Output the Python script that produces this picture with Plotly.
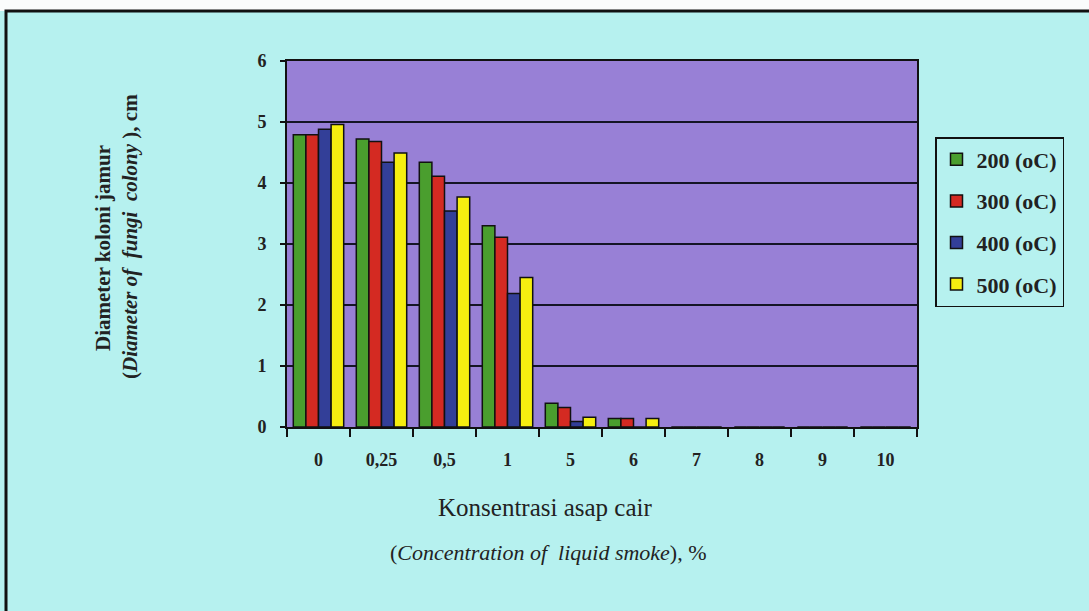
import plotly.graph_objects as go

categories = ["0", "0,25", "0,5", "1", "5", "6", "7", "8", "9", "10"]
s200 = [4.79, 4.72, 4.34, 3.30, 0.39, 0.14, 0, 0, 0, 0]
s300 = [4.79, 4.68, 4.11, 3.11, 0.32, 0.14, 0, 0, 0, 0]
s400 = [4.88, 4.34, 3.54, 2.19, 0.09, 0.0, 0, 0, 0, 0]
s500 = [4.96, 4.49, 3.77, 2.45, 0.16, 0.14, 0, 0, 0, 0]
series_names = ["200 (oC)", "300 (oC)", "400 (oC)", "500 (oC)"]
colors = ["#4a9e2e", "#d42a22", "#333f98", "#f6ee10"]

W, H = 1089, 611
L, R, T, B = 287, 172, 61, 184
pw, ph = W - L - R, H - T - B


def px_x(x):
    return (x - L) / pw


def px_y(y):
    return (H - B - y) / ph


fig = go.Figure()
for i, (name, vals) in enumerate(zip(series_names, [s200, s300, s400, s500])):
    fig.add_trace(go.Bar(
        x=categories, y=vals, name=name, legendgroup=name,
        marker=dict(color=colors[i], line=dict(color="#111111", width=1.5)),
    ))

serif = "Liberation Serif, serif"
bg = "#b6f1ef"
txt = "#222222"

fig.update_layout(
    width=W, height=H,
    margin=dict(l=L, r=R, t=T, b=B, autoexpand=False),
    paper_bgcolor=bg, plot_bgcolor="#9880d6",
    barmode="group", bargap=0.2, bargroupgap=0,
    font=dict(family=serif, color=txt),
    showlegend=True,
    legend=dict(
        x=px_x(935), xanchor="left",
        y=px_y(137), yanchor="top",
        bgcolor=bg, bordercolor="#111111", borderwidth=1.5,
        font=dict(family=serif, size=22, color=txt, weight="bold"),
        tracegroupgap=10,
        itemwidth=30,
    ),
    xaxis=dict(
        type="category", tickson="boundaries",
        ticks="outside", ticklen=8, tickwidth=1.5, tickcolor="#111111",
        showline=True, linecolor="#111111", linewidth=2, mirror=True,
        tickfont=dict(family=serif, size=18, color=txt, weight="bold"),
        ticklabelstandoff=15,
        showgrid=False,
    ),
    yaxis=dict(
        range=[0, 6], dtick=1,
        ticks="outside", ticklen=5, tickwidth=1.5, tickcolor="#111111",
        showline=True, linecolor="#111111", linewidth=2, mirror=True,
        showgrid=True, gridcolor="#151525", gridwidth=1.5,
        tickfont=dict(family=serif, size=18, color=txt, weight="bold"),
        ticklabelstandoff=10,
        zeroline=False,
    ),
)

fig.add_annotation(
    xref="paper", yref="paper", x=px_x(103), y=px_y(248),
    xanchor="center", yanchor="middle",
    text="<b>Diameter koloni jamur</b>", textangle=-90, showarrow=False,
    font=dict(family=serif, size=21, color=txt),
)
fig.add_annotation(
    xref="paper", yref="paper", x=px_x(130), y=px_y(237),
    xanchor="center", yanchor="middle",
    text="<b>(<i>Diameter of  fungi  colony</i> ), cm</b>", textangle=-90, showarrow=False,
    font=dict(family=serif, size=21, color=txt),
)
fig.add_annotation(
    xref="paper", yref="paper", x=px_x(545), y=px_y(508),
    xanchor="center", yanchor="middle",
    text="Konsentrasi asap cair", showarrow=False,
    font=dict(family=serif, size=25, color=txt),
)
fig.add_annotation(
    xref="paper", yref="paper", x=px_x(548), y=px_y(552),
    xanchor="center", yanchor="middle",
    text="(<i>Concentration of  liquid smoke</i>), %", showarrow=False,
    font=dict(family=serif, size=22, color=txt),
)

# white strip above the frame
fig.add_shape(
    type="rect", xref="paper", yref="paper",
    x0=px_x(-5), x1=px_x(1100), y0=px_y(11), y1=px_y(-5),
    line=dict(width=0), fillcolor="#fafcfc", layer="below",
)
# outer frame (left and top edges visible)
fig.add_shape(
    type="rect", xref="paper", yref="paper",
    x0=px_x(6), x1=px_x(1095),
    y0=px_y(625), y1=px_y(11),
    line=dict(color="#111111", width=3), fillcolor="rgba(0,0,0,0)", layer="below",
)

fig.write_html(
    "out.html",
    config={"displayModeBar": False},
    post_script="document.body.style.margin='0';",
)
